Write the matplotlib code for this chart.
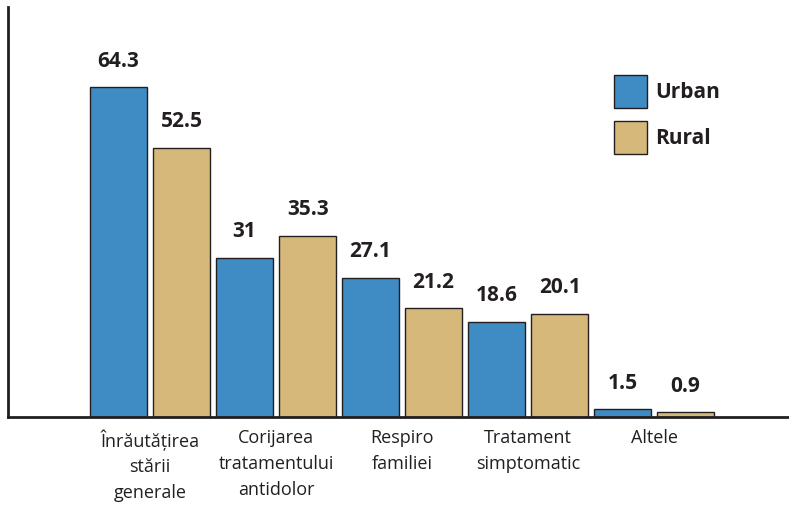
import numpy as np
import matplotlib.pyplot as plt
from matplotlib.patches import Rectangle

# data
categories = ["Înrăutățirea\nstării\ngenerale", "Corijarea\ntratamentului\nantidolor",
              "Respiro\nfamiliei", "Tratament\nsimptomatic", "Altele"]
urban = [64.3, 31, 27.1, 18.6, 1.5]
rural = [52.5, 35.3, 21.2, 20.1, 0.9]
series_names = ["Urban", "Rural"]

blue = "#3f8bc4"
tan = "#d6b97a"
edge = "#231f20"
txt = "#231f20"

plt.rcParams['font.family'] = ['Open Sans', 'DejaVu Sans']

W, H = 789, 506
fig = plt.figure(figsize=(W / 100, H / 100), dpi=100)
ax = fig.add_axes([8 / W, (H - 418) / H, (W - 8) / W, 410 / H])

x = np.arange(len(categories))
bw = 0.452
b1 = ax.bar(x - 0.25, urban, bw, color=blue, edgecolor=edge, linewidth=1.0, zorder=2)
b2 = ax.bar(x + 0.25, rural, bw, color=tan, edgecolor=edge, linewidth=1.0, zorder=2)

for bars, vals in [(b1, urban), (b2, rural)]:
    for b, v in zip(bars, vals):
        ax.annotate(f"{v:g}", (b.get_x() + b.get_width() / 2, v),
                    xytext=(0, 12), textcoords="offset points",
                    ha="center", va="bottom", fontsize=15, fontweight="bold", color=txt)

ax.set_xlim(-1.127, 5.07)
ax.set_ylim(0, 80)
ax.set_yticks([])
ax.set_xticks(x)
ax.set_xticklabels(categories, fontsize=13, color=txt, linespacing=1.55)
ax.tick_params(axis="x", length=0, pad=8)
for s in ["top", "right"]:
    ax.spines[s].set_visible(False)
for s in ["left", "bottom"]:
    ax.spines[s].set_color(edge)
    ax.spines[s].set_linewidth(2)

# legend, drawn by hand
for i, (name, col) in enumerate(zip(series_names, [blue, tan])):
    y0 = (H - 109 - i * 46) / H
    fig.add_artist(Rectangle((614 / W, y0), 33 / W, 33 / H, transform=fig.transFigure,
                             facecolor=col, edgecolor=edge, linewidth=1.0))
    fig.text(655 / W, y0 + 16.5 / H, name, fontsize=15, fontweight="bold",
             color=txt, va="center", ha="left")

fig.savefig("out.png", dpi=100)
